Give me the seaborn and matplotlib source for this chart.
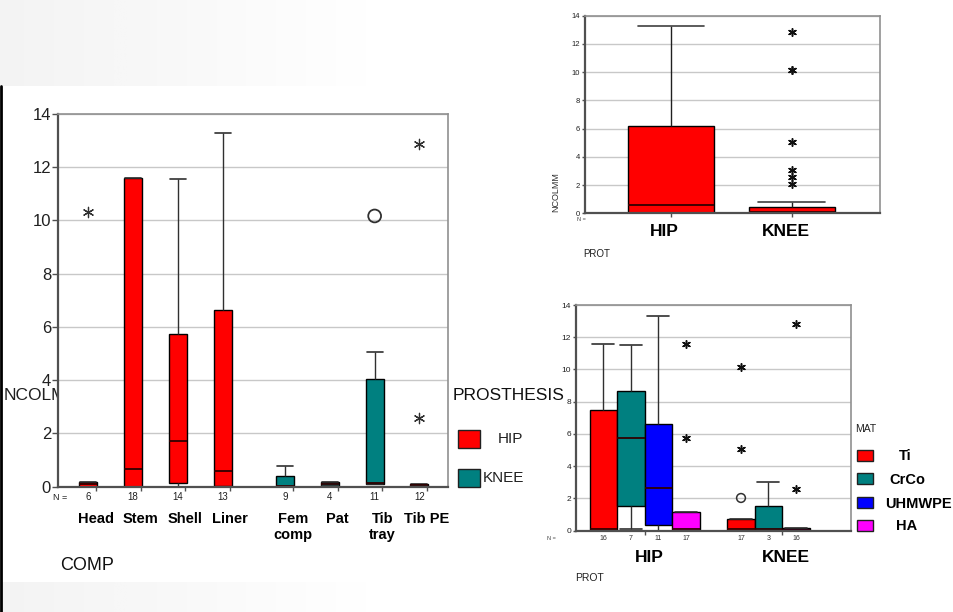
import numpy as np
import pandas as pd
import matplotlib
matplotlib.use("Agg")
import matplotlib.pyplot as plt
import matplotlib.transforms as mtransforms
from matplotlib.patches import Rectangle
import seaborn as sns

# ---------------- data: left chart (NCOLMM by COMP, clustered by PROSTHESIS)
COMP = ["Head", "Stem", "Shell", "Liner", "Fem\ncomp", "Pat", "Tib\ntray", "Tib PE"]
COMP_PROT = ["HIP", "HIP", "HIP", "HIP", "KNEE", "KNEE", "KNEE", "KNEE"]
COMP_N = [6, 18, 14, 13, 9, 4, 11, 12]
COMP_LO = [0.00, 0.00, 0.00, 0.00, 0.00, 0.03, 0.10, 0.00]
COMP_Q1 = [0.00, 0.00, 0.15, 0.02, 0.00, 0.03, 0.10, 0.00]
COMP_MED = [0.09, 0.68, 1.70, 0.58, 0.02, 0.10, 0.14, 0.05]
COMP_Q3 = [0.19, 11.58, 5.72, 6.65, 0.40, 0.19, 4.03, 0.11]
COMP_HI = [0.19, 11.58, 11.55, 13.27, 0.78, 0.19, 5.06, 0.11]
COMP_EXTREME_CAT = ["Head", "Tib PE", "Tib PE"]
COMP_EXTREME_VAL = [10.30, 12.86, 2.59]
COMP_OUTLIER_CAT = ["Tib\ntray"]
COMP_OUTLIER_VAL = [10.17]

# ---------------- data: top-right chart (NCOLMM by PROT)
PROT = ["HIP", "KNEE"]
PROT_LO = [0.00, 0.00]
PROT_Q1 = [0.00, 0.00]
PROT_MED = [0.59, 0.12]
PROT_Q3 = [6.19, 0.47]
PROT_HI = [13.29, 0.78]
PROT_EXTREME_CAT = ["KNEE"] * 7
PROT_EXTREME_VAL = [12.82, 10.15, 10.15, 5.08, 3.07, 2.60, 2.05]

# ---------------- data: bottom-right chart (NCOLMM by PROT, clustered by MAT)
MAT_LEVELS = ["Ti", "CrCo", "UHMWPE", "HA"]
MAT_PROT = ["HIP", "HIP", "HIP", "HIP", "KNEE", "KNEE", "KNEE"]
MAT = ["Ti", "CrCo", "UHMWPE", "HA", "Ti", "CrCo", "UHMWPE"]
MAT_N = [16, 7, 11, 17, 17, 3, 16]
MAT_LO = [0.00, 0.08, 0.00, 0.00, 0.00, 0.00, 0.00]
MAT_Q1 = [0.00, 1.53, 0.37, 0.00, 0.00, 0.00, 0.00]
MAT_MED = [0.12, 5.77, 2.63, 0.12, 0.12, 0.08, 0.06]
MAT_Q3 = [7.46, 8.64, 6.64, 1.16, 0.74, 1.53, 0.14]
MAT_HI = [11.58, 11.54, 13.30, 1.16, 0.74, 3.04, 0.14]
MAT_EXTREME_PROT = ["HIP", "HIP", "KNEE", "KNEE", "KNEE", "KNEE"]
MAT_EXTREME_MAT = ["HA", "HA", "Ti", "Ti", "UHMWPE", "UHMWPE"]
MAT_EXTREME_VAL = [11.56, 5.73, 10.13, 5.05, 12.84, 2.56]
MAT_OUTLIER_PROT = ["KNEE"]
MAT_OUTLIER_MAT = ["Ti"]
MAT_OUTLIER_VAL = [2.03]

# ---------------- styling
RED, TEAL, BLUE, MAGENTA = "#ff0000", "#008080", "#0000ff", "#ff00ff"
PROT_COLORS = {"HIP": RED, "KNEE": TEAL}
MAT_COLORS = {"Ti": RED, "CrCo": TEAL, "UHMWPE": BLUE, "HA": MAGENTA}
GRID = "#c8c8c8"
ASTER = (6, 2, 0)

sns.set_theme(style="white")
plt.rcParams["font.family"] = ["Liberation Sans", "DejaVu Sans"]

W, H = 954, 612
fig = plt.figure(figsize=(W / 100, H / 100), dpi=100)
fig.patch.set_facecolor("white")


def fx(px):
    return px / W


def fy(py):
    return 1 - py / H


def axes_px(x0, x1, y_top, y_bot):
    return fig.add_axes([fx(x0), fy(y_bot), (x1 - x0) / W, (y_bot - y_top) / H])


def five_rows(keys, lo, q1, med, q3, hi):
    rows = []
    for k, a, b, c, d, e in zip(keys, lo, q1, med, q3, hi):
        for v in (a, b, c, d, e):
            rows.append((*k, v))
    return rows


def style_axes(ax, tick_fs, tick_len):
    ax.set_ylim(0, 14)
    ax.set_yticks(range(0, 15, 2))
    ax.yaxis.grid(True, color=GRID, lw=1)
    ax.xaxis.grid(False)
    ax.set_axisbelow(True)
    ax.set_facecolor("white")
    ax.tick_params(axis="y", left=True, length=tick_len, width=1, color="#505050",
                   labelsize=tick_fs, pad=1, labelcolor="#202020")
    ax.tick_params(axis="x", bottom=True, length=3, width=1, color="#505050",
                   labelbottom=False)
    for s in ("left", "bottom"):
        ax.spines[s].set_color("#505050")
        ax.spines[s].set_linewidth(1.6)
    for s in ("top", "right"):
        ax.spines[s].set_color("#909090")
        ax.spines[s].set_linewidth(1.2)
    ax.set_xlabel("")
    ax.set_ylabel("")


# ---------------- decorative slide background (light texture bands + edge line)
bg = fig.add_axes([0, 0, 1, 1], zorder=-5)
bg.set_axis_off()
grad = np.linspace(1, 0, 256)[None, :]
bg.imshow(grad, extent=(0, 380, 86, 0), cmap="Greys", vmin=0, vmax=10, aspect="auto")
bg.imshow(grad, extent=(0, 380, 612, 582), cmap="Greys", vmin=0, vmax=10, aspect="auto")
bg.plot([1, 1], [86, 612], color="black", lw=2)
bg.set_xlim(0, W)
bg.set_ylim(H, 0)

# ================= LEFT CHART =================
comp_pos = []
p = 0.0
for i, pr in enumerate(COMP_PROT):
    if i > 0 and pr != COMP_PROT[i - 1]:
        p += 0.4
    comp_pos.append(p)
    p += 1.0
pos_of = dict(zip(COMP, comp_pos))

df1 = pd.DataFrame(five_rows(list(zip(comp_pos, COMP_PROT)), COMP_LO, COMP_Q1,
                             COMP_MED, COMP_Q3, COMP_HI),
                   columns=["pos", "prot", "val"])

fig.text(fx(4), fy(396), "NCOLMM", fontsize=12.5, va="center", ha="left",
         color="#202020", zorder=-1)

ax1 = axes_px(58, 448, 114, 486.7)
sns.boxplot(data=df1, x="pos", y="val", hue="prot", palette=PROT_COLORS,
            native_scale=True, dodge=False, width=0.4, whis=(0, 100),
            saturation=1, linecolor="black", linewidth=1, showfliers=False,
            legend=False, capwidths=0.36,
            medianprops=dict(color="#300000", lw=1.3),
            whiskerprops=dict(color="#303030", lw=1),
            capprops=dict(color="#303030", lw=1.2), ax=ax1)
ex1 = pd.DataFrame({"pos": [pos_of[c] for c in COMP_EXTREME_CAT], "val": COMP_EXTREME_VAL})
sns.scatterplot(data=ex1, x="pos", y="val", marker=ASTER, s=55, color="#303030",
                linewidth=0.9, ax=ax1, zorder=5)
ou1 = pd.DataFrame({"pos": [pos_of[c] for c in COMP_OUTLIER_CAT], "val": COMP_OUTLIER_VAL})
sns.scatterplot(data=ou1, x="pos", y="val", marker="o", s=85, facecolor="none",
                edgecolor="#303030", linewidth=1.3, ax=ax1, zorder=5)
style_axes(ax1, 12, 4)
ax1.set_xlim(-0.68, 8.04)
ax1.set_xticks([q + 0.17 for q in comp_pos])

t1 = mtransforms.blended_transform_factory(ax1.transData, fig.transFigure)
fig.text(fx(53), fy(497), "N =", fontsize=6.5, va="center", ha="left", color="#202020")
for q, n, name in zip(comp_pos, COMP_N, COMP):
    ax1.text(q, fy(497), str(n), transform=t1, fontsize=7, ha="center", va="center",
             color="#202020", clip_on=False)
    ax1.text(q + 0.17, fy(512), name, transform=t1, fontsize=10.5, fontweight="bold",
             ha="center", va="top", linespacing=1.15, clip_on=False, color="black")

fig.text(fx(60), fy(566), "COMP", fontsize=13, va="center", ha="left", color="#101010")
fig.text(fx(453), fy(396), "PROSTHESIS", fontsize=12.5, va="center", ha="left",
         color="#101010")
for (y0, y1, lab, lx, col) in [(430, 448, "HIP", 498, RED), (469, 487, "KNEE", 483, TEAL)]:
    fig.patches.append(Rectangle((fx(458), fy(y1)), 22 / W, (y1 - y0) / H,
                                 transform=fig.transFigure, facecolor=col,
                                 edgecolor="#202020", lw=1))
    fig.text(fx(lx), fy((y0 + y1) / 2), lab, fontsize=11, va="center", ha="left",
             color="#202020")

# ================= TOP-RIGHT CHART =================
df2 = pd.DataFrame(five_rows([(i, pr) for i, pr in enumerate(PROT)], PROT_LO, PROT_Q1,
                             PROT_MED, PROT_Q3, PROT_HI),
                   columns=["pos", "prot", "val"])
ax2 = axes_px(585, 880, 15.7, 213.3)
sns.boxplot(data=df2, x="pos", y="val", native_scale=True, color=RED, width=0.71,
            whis=(0, 100), saturation=1, linecolor="black", linewidth=1,
            showfliers=False, capwidths=0.55,
            medianprops=dict(color="#400000", lw=1.4),
            whiskerprops=dict(color="#202020", lw=1),
            capprops=dict(color="#404040", lw=1.2), ax=ax2)
ex2 = pd.DataFrame({"pos": [PROT.index(c) for c in PROT_EXTREME_CAT], "val": PROT_EXTREME_VAL})
sns.scatterplot(data=ex2, x="pos", y="val", marker=ASTER, s=30, color="#101010",
                linewidth=1.1, ax=ax2, zorder=5)
style_axes(ax2, 5.5, 2.5)
ax2.set_xlim(-0.71, 1.73)
ax2.set_xticks(range(len(PROT)))
t2 = mtransforms.blended_transform_factory(ax2.transData, fig.transFigure)
for i, name in enumerate(PROT):
    ax2.text(i - 0.05, fy(232), name, transform=t2, fontsize=12.5, fontweight="bold",
             ha="center", va="center", clip_on=False, color="black")
fig.text(fx(577), fy(219), "N =", fontsize=4, va="center", ha="left", color="#404040")
fig.text(fx(583), fy(254), "PROT", fontsize=7, va="center", ha="left", color="#202020")
fig.text(fx(556), fy(192), "NCOLMM", fontsize=6.5, va="center", ha="center",
         rotation=90, color="#303030", zorder=-1)

# ================= BOTTOM-RIGHT CHART =================
df3 = pd.DataFrame(five_rows([(PROT.index(pr), m) for pr, m in zip(MAT_PROT, MAT)],
                             MAT_LO, MAT_Q1, MAT_MED, MAT_Q3, MAT_HI),
                   columns=["pos", "mat", "val"])
ax3 = axes_px(576, 851, 305, 530.7)
sns.boxplot(data=df3, x="pos", y="val", hue="mat", hue_order=MAT_LEVELS,
            palette=MAT_COLORS, native_scale=True, dodge=True, width=0.8, gap=0,
            whis=(0, 100), saturation=1, linecolor="black", linewidth=1,
            showfliers=False, legend=False, capwidths=0.16,
            medianprops=dict(color="#300000", lw=1.3),
            whiskerprops=dict(color="#303030", lw=1),
            capprops=dict(color="#303030", lw=1.2), ax=ax3)


def slot(prot, mat):
    return PROT.index(prot) + (MAT_LEVELS.index(mat) - (len(MAT_LEVELS) - 1) / 2) * 0.8 / len(MAT_LEVELS)


ex3 = pd.DataFrame({"pos": [slot(a, b) for a, b in zip(MAT_EXTREME_PROT, MAT_EXTREME_MAT)],
                    "val": MAT_EXTREME_VAL})
sns.scatterplot(data=ex3, x="pos", y="val", marker=ASTER, s=30, color="#101010",
                linewidth=1.1, ax=ax3, zorder=5)
ou3 = pd.DataFrame({"pos": [slot(a, b) for a, b in zip(MAT_OUTLIER_PROT, MAT_OUTLIER_MAT)],
                    "val": MAT_OUTLIER_VAL})
sns.scatterplot(data=ou3, x="pos", y="val", marker="o", s=40, facecolor="none",
                edgecolor="#303030", linewidth=1.1, ax=ax3, zorder=5)
style_axes(ax3, 6, 2.5)
ax3.set_xlim(-0.5, 1.5)
ax3.set_xticks(range(len(PROT)))
t3 = mtransforms.blended_transform_factory(ax3.transData, fig.transFigure)
for pr, m, n in zip(MAT_PROT, MAT, MAT_N):
    ax3.text(slot(pr, m), fy(538), str(n), transform=t3, fontsize=5, ha="center",
             va="center", color="#303030", clip_on=False)
for i, name in enumerate(PROT):
    ax3.text(i + 0.03, fy(557), name, transform=t3, fontsize=12.5, fontweight="bold",
             ha="center", va="center", clip_on=False, color="black")
fig.text(fx(547), fy(538), "N =", fontsize=4, va="center", ha="left", color="#404040")
fig.text(fx(575), fy(578), "PROT", fontsize=7.5, va="center", ha="left", color="#202020")
fig.text(fx(855), fy(429), "MAT", fontsize=7.5, va="center", ha="left", color="#202020")
for (y0, y1, lab, lx) in [(450, 461, "Ti", 899), (473, 484, "CrCo", 889),
                          (497, 508, "UHMWPE", 885), (520, 531, "HA", 896)]:
    fig.patches.append(Rectangle((fx(857), fy(y1)), 16 / W, (y1 - y0) / H,
                                 transform=fig.transFigure, facecolor=MAT_COLORS[lab],
                                 edgecolor="#202020", lw=1))
    fig.text(fx(lx), fy((y0 + y1) / 2 + 1), lab, fontsize=10.5, fontweight="bold",
             va="center", ha="left", color="black")

fig.savefig("out.png", dpi=100, facecolor="white")
